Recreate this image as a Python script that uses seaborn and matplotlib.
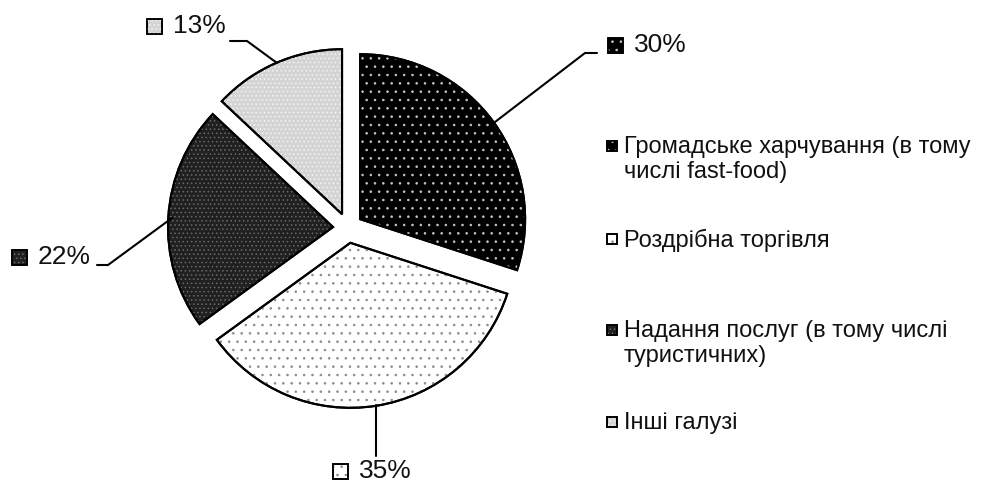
import matplotlib
matplotlib.use("Agg")
import matplotlib.pyplot as plt
import matplotlib.patches as mpatches
import seaborn as sns

# дані
categories = ["Громадське харчування (в тому\nчислі fast-food)",
              "Роздрібна торгівля",
              "Надання послуг (в тому числі\nтуристичних)",
              "Інші галузі"]
shares = [30, 35, 22, 13]
pct_labels = ["30%", "35%", "22%", "13%"]

sns.set_theme(style="white")
plt.rcParams['font.family'] = ['Liberation Sans', 'DejaVu Sans']
plt.rcParams['hatch.linewidth'] = 0.6

W, H = 989, 484
fig = plt.figure(figsize=(W / 100, H / 100), dpi=100)
ax = fig.add_axes([0, 0, 1, 1])

# кольори і штрихування секторів
faces = ["#000000", "#ffffff", "#202020", "#d4d4d4"]
hatch_cols = ["#c8c8c8", "#8a8a8a", "#6a6a6a", "#f4f4f4"]
hatches = ["..", "..", "....", "...."]

def py(y):
    # піксельна координата зверху -> координата осі
    return H - y

wedges, _ = ax.pie(shares, colors=faces, startangle=90, counterclock=False,
                   radius=165, center=(348, py(228)), explode=[15] * 4,
                   wedgeprops=dict(edgecolor="black", linewidth=1.5))

for w, hc, hp in zip(wedges, hatch_cols, hatches):
    ax.add_patch(mpatches.Wedge(w.center, w.r, w.theta1, w.theta2, facecolor="none",
                                edgecolor=hc, hatch=hp, linewidth=0))
    ax.add_patch(mpatches.Wedge(w.center, w.r, w.theta1, w.theta2, facecolor="none",
                                edgecolor="black", linewidth=1.5))

ax.set_xlim(0, W)
ax.set_ylim(0, H)
ax.set_aspect("auto")
ax.axis("off")

def square(x, y, s, i):
    ax.add_patch(mpatches.Rectangle((x, py(y) - s / 2), s, s, facecolor=faces[i],
                                    edgecolor="black", linewidth=1.2))
    ax.add_patch(mpatches.Rectangle((x, py(y) - s / 2), s, s, facecolor="none",
                                    edgecolor=hatch_cols[i], hatch=hatches[i], linewidth=0))
    ax.add_patch(mpatches.Rectangle((x, py(y) - s / 2), s, s, facecolor="none",
                                    edgecolor="black", linewidth=1.2))

# підписи відсотків з лініями-виносками
label_pos = [(608, 45), (333, 471), (12, 257), (147, 26)]
leaders = [[(495, 122), (585, 53), (597, 53)],
           [(376, 405), (376, 456)],
           [(172, 218), (108, 265), (97, 265)],
           [(277, 63), (247, 41), (230, 41)]]
for i, (lab, (x, y), pts) in enumerate(zip(pct_labels, label_pos, leaders)):
    square(x, y, 15, i)
    ax.text(x + 26, py(y), lab, fontsize=19, va="center", ha="left", color="#111111")
    ax.plot([p[0] for p in pts], [py(p[1]) for p in pts], color="black", lw=1.5)

# легенда
legend_y = [146, 239, 330, 422]
for i, (lab, y) in enumerate(zip(categories, legend_y)):
    square(607, y, 10, i)
    ax.text(624, py(y) + 10, lab, fontsize=17, va="top", ha="left",
            color="#111111", linespacing=1.2)

fig.savefig("out.png", dpi=100)
